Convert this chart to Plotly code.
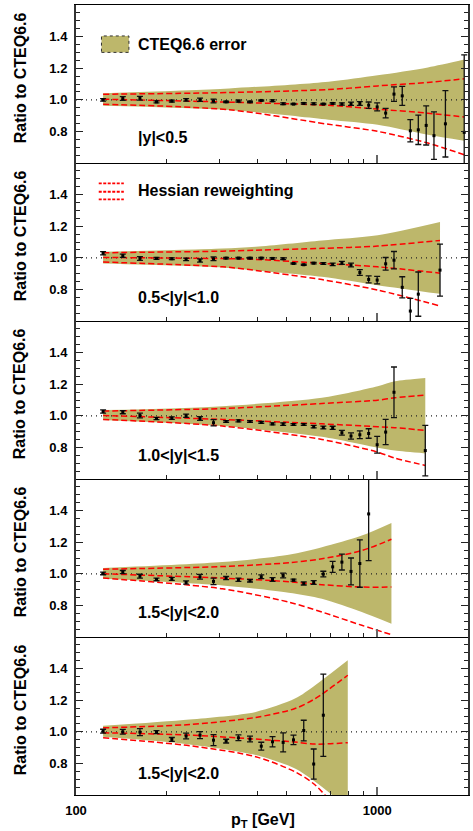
import math
import plotly.graph_objects as go

# ---------------------------------------------------------------------------
# Inclusive-jet pT bin centres (GeV)
PT_BINS = [123, 143, 163, 185, 208, 232, 258, 286, 315, 346, 378, 412, 449,
           487, 527, 570, 615, 662, 711, 763, 818, 875, 936, 999, 1066, 1136,
           1210, 1287, 1368, 1453, 1542, 1683, 1943]

PANEL_LABELS = ["|y|<0.5", "0.5<|y|<1.0", "1.0<|y|<1.5", "1.5<|y|<2.0", "1.5<|y|<2.0"]

# --- data / CTEQ6.6 ratios, per rapidity bin ---
P1_PT = PT_BINS
P1_RATIO = [1.0, 1.008, 1.01, 0.987, 0.992, 1.0, 1.0, 0.992, 0.987, 0.992, 0.987,
            0.996, 0.994, 0.975, 0.973, 0.977, 0.975, 0.973, 0.977, 0.973, 0.975,
            0.977, 0.966, 0.955, 0.916, 1.036, 1.025, 0.804, 0.81, 0.838, 0.773,
            0.848, 0.794]
P1_ERR = [0.008, 0.012, 0.012, 0.006, 0.006, 0.008, 0.01, 0.012, 0.004, 0.006,
          0.004, 0.004, 0.005, 0.005, 0.004, 0.005, 0.005, 0.004, 0.005, 0.007,
          0.01, 0.012, 0.02, 0.025, 0.03, 0.046, 0.06, 0.07, 0.093, 0.124, 0.15,
          0.21, 0.49]

P2_PT = PT_BINS[:29] + [1615]
P2_RATIO = [1.029, 1.013, 0.996, 0.996, 0.994, 0.99, 0.983, 0.994, 0.998, 0.998,
            0.998, 0.998, 0.996, 0.994, 0.964, 0.956, 0.966, 0.964, 0.958, 0.968,
            0.954, 0.907, 0.863, 0.859, 0.962, 0.985, 0.813, 0.663, 0.77, 0.922]
P2_ERR = [0.01, 0.01, 0.012, 0.006, 0.006, 0.008, 0.01, 0.012, 0.005, 0.005,
          0.004, 0.005, 0.005, 0.006, 0.004, 0.004, 0.005, 0.006, 0.008, 0.01,
          0.012, 0.018, 0.022, 0.024, 0.04, 0.055, 0.067, 0.08, 0.14, 0.165]

P3_PT = PT_BINS[:26] + [1443]
P3_RATIO = [1.027, 1.023, 1.002, 0.983, 0.985, 1.0, 0.983, 0.956, 0.964, 0.968,
            0.964, 0.958, 0.949, 0.947, 0.945, 0.945, 0.931, 0.926, 0.924, 0.893,
            0.872, 0.88, 0.888, 0.817, 0.897, 1.149, 0.78]
P3_ERR = [0.01, 0.01, 0.015, 0.007, 0.008, 0.01, 0.012, 0.02, 0.006, 0.006,
          0.005, 0.006, 0.006, 0.008, 0.006, 0.006, 0.008, 0.009, 0.01, 0.015,
          0.02, 0.025, 0.03, 0.053, 0.08, 0.16, 0.16]

P4_PT = PT_BINS[:23]
P4_RATIO = [1.002, 1.011, 0.985, 0.964, 0.968, 0.945, 0.981, 0.952, 0.973, 0.962,
            0.956, 0.981, 0.964, 0.989, 0.96, 0.939, 0.945, 0.998, 1.044, 1.074,
            1.015, 1.065, 1.379]
P4_ERR = [0.008, 0.01, 0.012, 0.008, 0.01, 0.01, 0.015, 0.02, 0.01, 0.01, 0.008,
          0.012, 0.012, 0.015, 0.006, 0.01, 0.012, 0.018, 0.035, 0.05, 0.085,
          0.15, 0.295]

P5_PT = PT_BINS[:18]
P5_RATIO = [1.004, 1.0, 0.998, 0.998, 0.952, 0.973, 0.979, 0.947, 0.941, 0.962,
            0.954, 0.909, 0.937, 0.933, 0.949, 1.008, 0.796, 1.105]
P5_ERR = [0.012, 0.015, 0.022, 0.01, 0.012, 0.018, 0.022, 0.035, 0.012, 0.018,
          0.018, 0.025, 0.032, 0.06, 0.03, 0.065, 0.095, 0.26]

# --- CTEQ6.6 error band and Hessian-reweighted curves (pT nodes per panel) ---
P1_NODES = [123, 322, 689, 1003, 1472, 1943]
P1_BAND_HI = [1.042, 1.072, 1.115, 1.155, 1.205, 1.255]
P1_BAND_LO = [0.962, 0.935, 0.874, 0.842, 0.779, 0.741]
P1_HESS_HI = [1.035, 1.046, 1.065, 1.088, 1.11, 1.133]
P1_HESS_MID = [1.004, 0.985, 0.965, 0.941, 0.915, 0.891]
P1_HESS_LO = [0.972, 0.937, 0.845, 0.80, 0.726, 0.652]

P2_NODES = [123, 306, 395, 655, 1003, 1615]
P2_BAND_HI = [1.038, 1.059, 1.07, 1.11, 1.143, 1.227]
P2_BAND_LO = [0.964, 0.939, 0.92, 0.88, 0.827, 0.772]
P2_HESS_HI = [1.032, 1.042, 1.048, 1.06, 1.074, 1.11]
P2_HESS_MID = [1.002, 0.995, 0.99, 0.965, 0.943, 0.903]
P2_HESS_LO = [0.973, 0.943, 0.92, 0.862, 0.796, 0.695]

P3_NODES = [123, 306, 655, 1003, 1144, 1443]
P3_BAND_HI = [1.036, 1.061, 1.114, 1.187, 1.219, 1.24]
P3_BAND_LO = [0.973, 0.935, 0.867, 0.798, 0.78, 0.762]
P3_HESS_HI = [1.03, 1.046, 1.078, 1.099, 1.114, 1.131]
P3_HESS_MID = [1.002, 0.977, 0.949, 0.931, 0.925, 0.907]
P3_HESS_LO = [0.977, 0.935, 0.85, 0.77, 0.732, 0.686]

P4_NODES = [123, 306, 508, 655, 888, 1114]
P4_BAND_HI = [1.036, 1.074, 1.12, 1.168, 1.242, 1.322]
P4_BAND_LO = [0.968, 0.926, 0.88, 0.842, 0.758, 0.684]
P4_HESS_HI = [1.029, 1.046, 1.07, 1.095, 1.147, 1.219]
P4_HESS_MID = [1.0, 0.973, 0.95, 0.931, 0.916, 0.916]
P4_HESS_LO = [0.973, 0.905, 0.821, 0.758, 0.674, 0.615]

P5_NODES = [123, 238, 395, 533, 622, 798]
P5_BAND_HI = [1.038, 1.078, 1.126, 1.21, 1.295, 1.453]
P5_BAND_LO = [0.968, 0.92, 0.853, 0.768, 0.684, 0.52]
P5_HESS_HI = [1.025, 1.046, 1.091, 1.147, 1.21, 1.358]
P5_HESS_MID = [0.994, 0.979, 0.954, 0.935, 0.922, 0.931]
P5_HESS_LO = [0.962, 0.912, 0.842, 0.747, 0.663, 0.43]

PANELS = [
    (P1_PT, P1_RATIO, P1_ERR, P1_NODES, P1_BAND_HI, P1_BAND_LO, P1_HESS_HI, P1_HESS_MID, P1_HESS_LO),
    (P2_PT, P2_RATIO, P2_ERR, P2_NODES, P2_BAND_HI, P2_BAND_LO, P2_HESS_HI, P2_HESS_MID, P2_HESS_LO),
    (P3_PT, P3_RATIO, P3_ERR, P3_NODES, P3_BAND_HI, P3_BAND_LO, P3_HESS_HI, P3_HESS_MID, P3_HESS_LO),
    (P4_PT, P4_RATIO, P4_ERR, P4_NODES, P4_BAND_HI, P4_BAND_LO, P4_HESS_HI, P4_HESS_MID, P4_HESS_LO),
    (P5_PT, P5_RATIO, P5_ERR, P5_NODES, P5_BAND_HI, P5_BAND_LO, P5_HESS_HI, P5_HESS_MID, P5_HESS_LO),
]

Y_TICKS = [0.8, 1.0, 1.2, 1.4]
Y_TICK_TEXT = ["0.8", "1.0", "1.2", "1.4"]
X_TICKS = [100, 1000]
X_TICK_TEXT = ["100", "1000"]
X_MINOR = [200, 300, 400, 500, 600, 700, 800, 900, 2000]
X_RANGE = [100, 2000]
Y_RANGE = [0.6, 1.6]

FONT = "Liberation Sans, Arial, Helvetica, sans-serif"
OLIVE = "rgb(189,183,107)"
RED = "rgb(255,0,0)"

W, H = 473, 831
M_L, M_R, M_T, M_B = 76, 3, 5, 36
PLOT_H = H - M_T - M_B
N = len(PANELS)

fig = go.Figure()

for i, (pt, ratio, err, nodes, bhi, blo, hhi, hmid, hlo) in enumerate(PANELS):
    sfx = "" if i == 0 else str(i + 1)
    xa, ya = "x" + sfx, "y" + sfx
    common = dict(xaxis=xa, yaxis=ya, showlegend=False, hoverinfo="skip")

    # CTEQ6.6 uncertainty band
    fig.add_trace(go.Scatter(x=nodes, y=bhi, mode="lines",
                             line=dict(width=0, shape="spline", smoothing=0.8),
                             **common))
    fig.add_trace(go.Scatter(x=nodes, y=blo, mode="lines",
                             line=dict(width=0, shape="spline", smoothing=0.8),
                             fill="tonexty", fillcolor=OLIVE, **common))

    # reference line at unity
    fig.add_trace(go.Scatter(x=X_RANGE, y=[1.0, 1.0], mode="lines",
                             line=dict(color="#222", width=1.2, dash="1px,4px"),
                             **common))

    # Hessian-reweighted central value and uncertainty
    for curve in (hhi, hmid, hlo):
        fig.add_trace(go.Scatter(x=nodes, y=curve, mode="lines",
                                 line=dict(color=RED, width=1.5, dash="6px,3px",
                                           shape="spline", smoothing=0.8),
                                 **common))

    # data points
    fig.add_trace(go.Scatter(x=pt, y=ratio, mode="markers",
                             marker=dict(symbol="square", size=3, color="black"),
                             error_y=dict(type="data", array=err, thickness=1.3,
                                          width=3, color="#111"),
                             **common))

layout = dict(
    width=W, height=H,
    margin=dict(l=M_L, r=M_R, t=M_T, b=M_B),
    paper_bgcolor="white", plot_bgcolor="white",
    showlegend=False,
    font=dict(family=FONT, color="black"),
)

tickfont = dict(family=FONT, size=13, color="black", weight="bold")

for i in range(N):
    sfx = "" if i == 0 else str(i + 1)
    lo = round(max(0.0, (N - 1 - i) / N), 6)
    hi = round(min(1.0, (N - i) / N), 6)
    layout["yaxis" + sfx] = dict(
        domain=[lo, hi], range=Y_RANGE, anchor="x" + sfx,
        tickmode="array", tickvals=Y_TICKS, ticktext=Y_TICK_TEXT,
        ticks="inside", ticklen=7, tickwidth=1.2, tickcolor="#222",
        minor=dict(dtick=0.05, tick0=0.6, ticks="inside", ticklen=4,
                   tickwidth=1, tickcolor="#222"),
        showline=True, linewidth=2, linecolor="#333", mirror="allticks",
        showgrid=False, zeroline=False, tickfont=tickfont,
        ticklabelstandoff=4,
    )
    xa = dict(
        type="log", range=[math.log10(X_RANGE[0]), math.log10(X_RANGE[1])],
        anchor="y" + sfx, tickmode="array", tickvals=X_TICKS, ticktext=X_TICK_TEXT,
        showticklabels=(i == N - 1), ticks="inside", ticklen=8, tickwidth=1.5,
        tickcolor="#666",
        minor=dict(tickmode="array", tickvals=X_MINOR, ticks="inside", ticklen=4,
                   tickwidth=1, tickcolor="#222"),
        showline=True, linewidth=1.3, linecolor="black",
        mirror=(i == 0),
        showgrid=False, zeroline=False, tickfont=tickfont, ticklabelstandoff=3,
    )
    if i > 0:
        xa["matches"] = "x"
    layout["xaxis" + sfx] = xa

fig.update_layout(**layout)

label_font = dict(family=FONT, size=16, color="black", weight="bold")
annotations = []
shapes = []

# axis titles
for i in range(N):
    centre_px = M_T + (i + 0.5) * PLOT_H / N - 6
    annotations.append(dict(
        text="Ratio to CTEQ6.6", textangle=-90, xref="paper", yref="paper",
        x=(20 - M_L) / (W - M_L - M_R), y=(H - M_B - centre_px) / PLOT_H,
        xanchor="center", yanchor="middle", showarrow=False, font=label_font))

annotations.append(dict(
    text="p<sub>T</sub> [GeV]", xref="paper", yref="paper",
    x=(264 - M_L) / (W - M_L - M_R), y=-25 / PLOT_H,
    xanchor="center", yanchor="middle", showarrow=False, font=label_font))

# rapidity labels
label_y = [0.16, 0.147, 0.147, 0.156, 0.137]
for i, txt in enumerate(PANEL_LABELS):
    sfx = "" if i == 0 else str(i + 1)
    annotations.append(dict(
        text=txt, xref="x" + sfx + " domain", yref="y" + sfx + " domain",
        x=0.152, y=label_y[i], xanchor="left", yanchor="middle",
        showarrow=False, font=label_font))

# legend entries
shapes.append(dict(type="rect", xref="x domain", yref="y domain",
                   x0=0.065, x1=0.135, y0=0.70, y1=0.804,
                   fillcolor=OLIVE, line=dict(color="#333", width=1, dash="dot")))
annotations.append(dict(text="CTEQ6.6 error", xref="x domain", yref="y domain",
                        x=0.152, y=0.75, xanchor="left", yanchor="middle",
                        showarrow=False, font=label_font))
for yy in (0.871, 0.818, 0.770):
    shapes.append(dict(type="line", xref="x2 domain", yref="y2 domain",
                       x0=0.058, x1=0.122, y0=yy, y1=yy,
                       line=dict(color=RED, width=1.8, dash="3px,1.5px")))
annotations.append(dict(text="Hessian reweighting", xref="x2 domain",
                        yref="y2 domain", x=0.152, y=0.823, xanchor="left",
                        yanchor="middle", showarrow=False, font=label_font))

fig.update_layout(annotations=annotations, shapes=shapes)

fig.write_html("out.html")
